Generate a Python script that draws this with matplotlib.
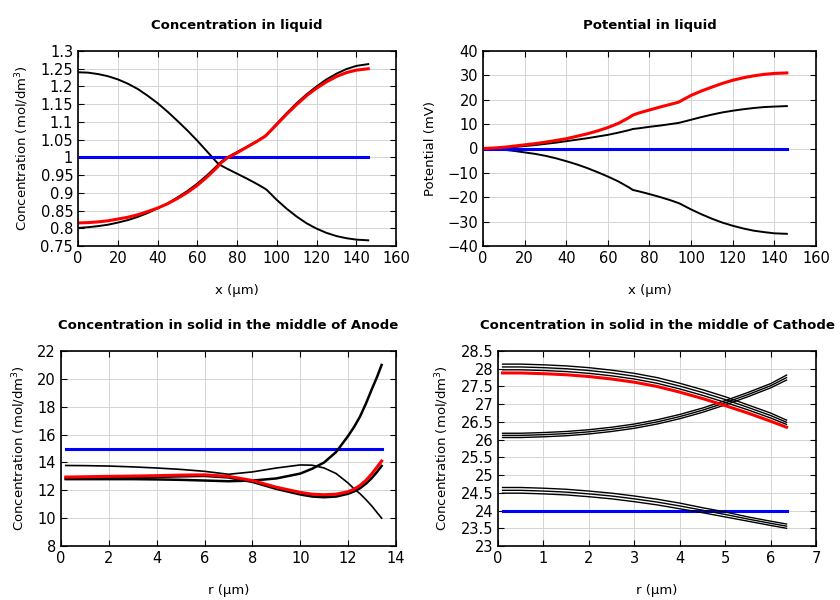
import numpy as np
import matplotlib
matplotlib.use("Agg")
import matplotlib.pyplot as plt

# ---- liquid profiles (x in um) ----
x_liq = [0, 5, 10, 15, 20, 25, 30, 35, 40, 45, 50, 55, 60, 65, 70, 72, 75, 80, 85, 90, 94,
         95, 100, 105, 110, 115, 120, 125, 130, 135, 140, 146]
c_liq_down = [1.240, 1.239, 1.235, 1.229, 1.220, 1.208, 1.193, 1.174, 1.153, 1.129, 1.103, 1.076,
              1.047, 1.016, 0.985, 0.977, 0.968, 0.954, 0.940, 0.925, 0.912,
              0.908, 0.880, 0.855, 0.833, 0.814, 0.799, 0.787, 0.778, 0.772, 0.768, 0.766]
c_liq_up = [0.801, 0.803, 0.806, 0.810, 0.816, 0.823, 0.832, 0.843, 0.856, 0.870, 0.887, 0.905,
            0.926, 0.950, 0.977, 0.988, 1.000, 1.015, 1.030, 1.046, 1.060,
            1.065, 1.095, 1.125, 1.153, 1.178, 1.200, 1.220, 1.236, 1.249, 1.258, 1.263]
c_liq_red = [0.815, 0.816, 0.818, 0.821, 0.826, 0.831, 0.838, 0.847, 0.857, 0.869, 0.884, 0.901,
             0.921, 0.945, 0.972, 0.985, 0.998, 1.013, 1.029, 1.045, 1.059,
             1.064, 1.093, 1.122, 1.149, 1.174, 1.195, 1.213, 1.228, 1.239, 1.246, 1.250]
x_init = [1, 146]
c_liq_init = [1.0, 1.0]

phi_up = [0, 0.1, 0.3, 0.6, 1.0, 1.4, 1.9, 2.4, 3.0, 3.6, 4.2, 4.9, 5.6, 6.5, 7.5, 8.0, 8.3,
          8.9, 9.4, 10.0, 10.5, 10.7, 11.8, 12.9, 13.9, 14.8, 15.5, 16.1, 16.6, 17.0, 17.2, 17.4]
phi_down = [0, -0.2, -0.5, -1.0, -1.6, -2.2, -3.0, -4.0, -5.2, -6.5, -8.0, -9.7, -11.5, -13.5,
            -15.9, -17.0, -17.6, -18.7, -19.9, -21.2, -22.4, -22.8, -25.0, -27.0, -28.8, -30.4,
            -31.7, -32.8, -33.7, -34.3, -34.8, -35.0]
phi_red = [0, 0.2, 0.5, 1.0, 1.5, 2.0, 2.6, 3.3, 4.0, 5.0, 6.0, 7.2, 8.6, 10.3, 12.6, 13.7, 14.6,
           15.8, 17.0, 18.1, 19.0, 19.5, 21.8, 23.6, 25.2, 26.7, 28.0, 29.0, 29.8, 30.4, 30.8, 31.0]
phi_init = [0, 0]

# ---- anode particle (r in um) ----
r_an = [0.2, 1, 2, 3, 4, 5, 6, 7, 8, 9, 10, 10.5, 11, 11.5, 12, 12.25, 12.5, 12.75, 13, 13.2, 13.4]
r_an_init = [0.2, 13.4]
an_init = [15, 15]
an_thin = [13.78, 13.77, 13.74, 13.68, 13.60, 13.50, 13.36, 13.15, 13.32, 13.60, 13.82, 13.80,
           13.60, 13.20, 12.52, 12.10, 11.75, 11.32, 10.85, 10.42, 10.0]
an_rise = [12.80, 12.80, 12.80, 12.80, 12.78, 12.75, 12.70, 12.65, 12.70, 12.85, 13.20, 13.55,
           14.00, 14.75, 15.90, 16.55, 17.30, 18.25, 19.30, 20.10, 21.0]
an_dip = [12.85, 12.87, 12.90, 12.92, 12.96, 13.00, 13.03, 12.92, 12.60, 12.10, 11.70, 11.55,
          11.50, 11.55, 11.75, 11.92, 12.15, 12.48, 12.90, 13.30, 13.75]
an_red = [12.95, 12.97, 13.00, 13.02, 13.05, 13.09, 13.11, 13.00, 12.70, 12.22, 11.85, 11.72,
          11.68, 11.72, 11.90, 12.08, 12.35, 12.72, 13.20, 13.65, 14.10]

# ---- cathode particle ----
r_ca = [0.1, 0.5, 1, 1.5, 2, 2.5, 3, 3.5, 4, 4.5, 5, 5.5, 6, 6.35]
r_ca_init = [0.1, 6.35]
ca_init = [24, 24]
ca_red = [27.88, 27.88, 27.86, 27.83, 27.78, 27.71, 27.62, 27.50, 27.34, 27.16, 26.96, 26.75, 26.52, 26.35]
ca_a1 = [27.97, 27.97, 27.95, 27.92, 27.87, 27.80, 27.71, 27.59, 27.43, 27.25, 27.05, 26.84, 26.61, 26.43]
ca_a2 = [28.05, 28.05, 28.03, 28.00, 27.95, 27.88, 27.79, 27.67, 27.51, 27.33, 27.13, 26.91, 26.68, 26.49]
ca_a3 = [28.13, 28.13, 28.11, 28.08, 28.03, 27.96, 27.87, 27.75, 27.59, 27.41, 27.21, 26.98, 26.75, 26.55]
ca_b1 = [26.06, 26.06, 26.08, 26.11, 26.16, 26.23, 26.32, 26.44, 26.59, 26.77, 26.98, 27.21, 27.46, 27.68]
ca_b2 = [26.12, 26.12, 26.14, 26.17, 26.22, 26.29, 26.38, 26.50, 26.65, 26.83, 27.04, 27.27, 27.52, 27.75]
ca_b3 = [26.18, 26.18, 26.20, 26.23, 26.28, 26.35, 26.44, 26.56, 26.71, 26.89, 27.10, 27.33, 27.58, 27.82]
ca_c1 = [24.49, 24.49, 24.47, 24.44, 24.39, 24.33, 24.25, 24.16, 24.05, 23.94, 23.82, 23.70, 23.58, 23.50]
ca_c2 = [24.57, 24.57, 24.55, 24.52, 24.47, 24.41, 24.33, 24.24, 24.13, 24.01, 23.89, 23.76, 23.64, 23.56]
ca_c3 = [24.65, 24.65, 24.63, 24.60, 24.55, 24.49, 24.41, 24.32, 24.21, 24.08, 23.96, 23.82, 23.70, 23.62]

plt.rcParams["font.family"] = "DejaVu Sans"
plt.rcParams["font.size"] = 9

fig = plt.figure(figsize=(8.4, 6.0), dpi=100)
ax1 = fig.add_axes([0.0929, 0.59, 0.3786, 0.325])
ax2 = fig.add_axes([0.575, 0.59, 0.3964, 0.325])
ax3 = fig.add_axes([0.0726, 0.09, 0.3988, 0.325])
ax4 = fig.add_axes([0.5929, 0.09, 0.3786, 0.325])


def style(ax, title, xlabel, ylabel):
    ax.set_title(title, fontweight="bold", fontsize=9.5, pad=16)
    ax.set_xlabel(xlabel, labelpad=13, fontsize=9.5)
    ax.set_ylabel(ylabel, fontsize=9.5, labelpad=7)
    ax.grid(True, color="#d4d4d4", lw=0.7)
    ax.set_axisbelow(True)
    ax.tick_params(direction="in", top=True, right=True, length=4, labelsize=10.5)
    for s in ax.spines.values():
        s.set_linewidth(1.2)


# concentration in liquid
ax1.plot(x_liq, c_liq_down, color="black", lw=1.4)
ax1.plot(x_liq, c_liq_up, color="black", lw=1.4)
ax1.plot(x_init, c_liq_init, color="blue", lw=2.2)
ax1.plot(x_liq, c_liq_red, color="red", lw=2.2)
ax1.set_xlim(0, 160)
ax1.set_ylim(0.75, 1.3)
ax1.set_xticks(np.arange(0, 161, 20))
ax1.set_yticks(np.arange(0.75, 1.301, 0.05))
ax1.set_yticklabels(["0.75", "0.8", "0.85", "0.9", "0.95", "1", "1.05", "1.1", "1.15", "1.2", "1.25", "1.3"])
style(ax1, "Concentration in liquid", "x (µm)", "Concentration (mol/dm$^3$)")

# potential in liquid
ax2.plot(x_liq, phi_up, color="black", lw=1.4)
ax2.plot(x_liq, phi_down, color="black", lw=1.4)
ax2.plot(x_init, phi_init, color="blue", lw=2.2)
ax2.plot(x_liq, phi_red, color="red", lw=2.2)
ax2.set_xlim(0, 160)
ax2.set_ylim(-40, 40)
ax2.set_xticks(np.arange(0, 161, 20))
ax2.set_yticks(np.arange(-40, 41, 10))
style(ax2, "Potential in liquid", "x (µm)", "Potential (mV)")

# anode
ax3.plot(r_an_init, an_init, color="blue", lw=2.2)
ax3.plot(r_an, an_thin, color="black", lw=1.2)
ax3.plot(r_an, an_rise, color="black", lw=1.8)
ax3.plot(r_an, an_dip, color="black", lw=1.8)
ax3.plot(r_an, an_red, color="red", lw=2.2)
ax3.set_xlim(0, 14)
ax3.set_ylim(8, 22)
ax3.set_xticks(np.arange(0, 15, 2))
ax3.set_yticks(np.arange(8, 23, 2))
style(ax3, "Concentration in solid in the middle of Anode", "r (µm)", "Concentration (mol/dm$^3$)")

# cathode
ax4.plot(r_ca_init, ca_init, color="blue", lw=2.2)
for ys in [ca_a1, ca_a2, ca_a3, ca_b1, ca_b2, ca_b3, ca_c1, ca_c2, ca_c3]:
    ax4.plot(r_ca, ys, color="black", lw=1.0)
ax4.plot(r_ca, ca_red, color="red", lw=2.2)
ax4.set_xlim(0, 7)
ax4.set_ylim(23, 28.5)
ax4.set_xticks(np.arange(0, 8, 1))
ax4.set_yticks(np.arange(23, 28.51, 0.5))
ax4.set_yticklabels(["23", "23.5", "24", "24.5", "25", "25.5", "26", "26.5", "27", "27.5", "28", "28.5"])
style(ax4, "Concentration in solid in the middle of Cathode", "r (µm)", "Concentration (mol/dm$^3$)")

fig.savefig("out.png", dpi=100)
